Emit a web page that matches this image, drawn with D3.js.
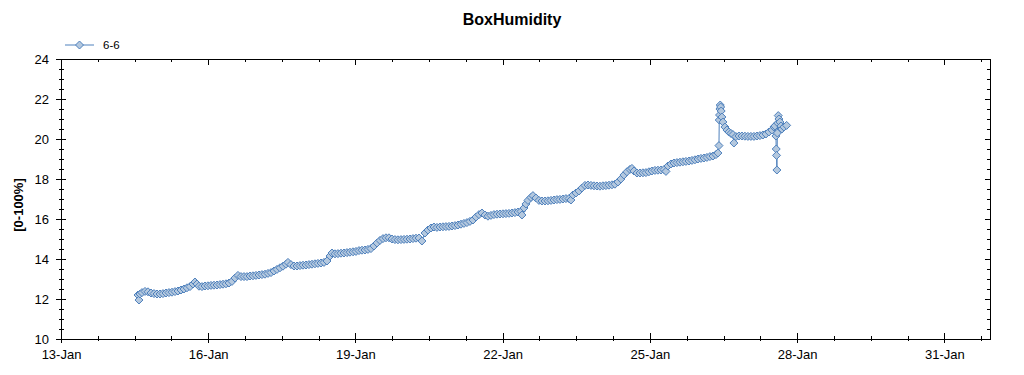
<!DOCTYPE html>
<html>
<head>
  <meta charset="utf-8" />
  <title>BoxHumidity</title>
  <style>
    body { margin: 0; background: #fff; }
    svg { font-family: "Liberation Sans", Arial, sans-serif; }
    .axis path, .axis line { stroke: #000; shape-rendering: crispEdges; }
    .axis text { font-size: 13px; fill: #000; }
  </style>
</head>
<body>
  <svg></svg>
  <script src="https://d3js.org/d3.v7.min.js"></script>
  <script>
    // readings: [day of January, humidity]
    var seriesName = "6-6";
    var humidity66 = [
      [14.569,12.20],[14.589,11.95],[14.610,12.25],[14.650,12.32],[14.712,12.38],[14.773,12.36],[14.834,12.30],[14.895,12.27],
      [14.956,12.25],[15.017,12.25],[15.078,12.27],[15.139,12.30],[15.200,12.32],[15.262,12.34],[15.323,12.37],[15.384,12.40],
      [15.445,12.45],[15.506,12.50],[15.567,12.56],[15.628,12.62],[15.690,12.75],[15.730,12.85],[15.771,12.75],[15.812,12.64],
      [15.873,12.62],[15.934,12.65],[15.995,12.66],[16.056,12.68],[16.117,12.69],[16.179,12.70],[16.240,12.72],[16.301,12.74],
      [16.362,12.76],[16.423,12.80],[16.484,12.88],[16.545,13.05],[16.606,13.18],[16.668,13.12],[16.729,13.12],[16.790,13.12],
      [16.851,13.15],[16.912,13.16],[16.973,13.18],[17.034,13.20],[17.095,13.22],[17.157,13.24],[17.218,13.28],[17.279,13.32],
      [17.340,13.40],[17.401,13.48],[17.462,13.56],[17.523,13.64],[17.584,13.74],[17.625,13.83],[17.686,13.72],[17.747,13.65],
      [17.809,13.65],[17.870,13.67],[17.931,13.69],[17.992,13.70],[18.053,13.72],[18.114,13.74],[18.175,13.76],[18.236,13.78],
      [18.298,13.80],[18.359,13.83],[18.420,13.90],[18.481,14.15],[18.522,14.30],[18.583,14.26],[18.644,14.27],[18.705,14.29],
      [18.766,14.30],[18.827,14.32],[18.888,14.34],[18.950,14.36],[19.011,14.38],[19.072,14.42],[19.133,14.44],[19.194,14.45],
      [19.255,14.48],[19.316,14.52],[19.377,14.65],[19.439,14.80],[19.500,14.93],[19.561,15.02],[19.622,15.06],[19.683,15.06],
      [19.744,15.00],[19.805,14.97],[19.866,14.96],[19.928,14.97],[19.989,14.98],[20.050,14.99],[20.111,15.00],[20.172,15.02],
      [20.233,15.04],[20.294,15.05],[20.355,14.90],[20.417,15.30],[20.478,15.45],[20.539,15.55],[20.600,15.60],[20.661,15.58],
      [20.722,15.60],[20.783,15.61],[20.844,15.62],[20.906,15.63],[20.967,15.65],[21.028,15.67],[21.089,15.70],[21.150,15.74],
      [21.211,15.78],[21.272,15.82],[21.333,15.88],[21.395,15.95],[21.456,16.10],[21.517,16.22],[21.578,16.30],[21.639,16.20],
      [21.700,16.14],[21.761,16.18],[21.822,16.22],[21.884,16.24],[21.945,16.25],[22.006,16.26],[22.067,16.27],[22.128,16.28],
      [22.189,16.30],[22.250,16.32],[22.311,16.35],[22.373,16.38],[22.393,16.20],[22.434,16.55],[22.474,16.75],[22.515,16.93],
      [22.576,17.08],[22.617,17.17],[22.678,17.05],[22.739,16.93],[22.800,16.90],[22.862,16.90],[22.923,16.91],[22.984,16.93],
      [23.045,16.95],[23.106,16.97],[23.167,16.98],[23.228,17.00],[23.289,17.02],[23.351,17.02],[23.391,16.95],[23.432,17.20],
      [23.493,17.30],[23.554,17.40],[23.615,17.55],[23.677,17.68],[23.738,17.70],[23.799,17.68],[23.860,17.66],[23.921,17.65],
      [23.982,17.64],[24.043,17.66],[24.104,17.67],[24.166,17.69],[24.227,17.71],[24.288,17.74],[24.349,17.85],[24.410,18.00],
      [24.471,18.20],[24.532,18.36],[24.593,18.48],[24.634,18.53],[24.675,18.40],[24.736,18.30],[24.797,18.30],[24.858,18.31],
      [24.919,18.32],[24.980,18.36],[25.041,18.40],[25.103,18.43],[25.164,18.44],[25.225,18.45],[25.286,18.47],[25.327,18.38],
      [25.368,18.65],[25.429,18.75],[25.490,18.80],[25.551,18.82],[25.612,18.84],[25.673,18.86],[25.734,18.88],[25.796,18.90],
      [25.857,18.93],[25.918,18.96],[25.979,19.00],[26.040,19.03],[26.101,19.05],[26.162,19.08],[26.223,19.12],[26.285,19.15],
      [26.346,19.22],[26.386,19.30],[26.407,19.67],[26.413,20.95],[26.419,21.20],[26.427,21.50],[26.433,21.70],[26.442,21.60],
      [26.452,21.40],[26.468,21.10],[26.488,20.85],[26.529,20.60],[26.570,20.45],[26.610,20.35],[26.651,20.28],[26.692,20.22],
      [26.712,19.80],[26.753,20.12],[26.814,20.15],[26.875,20.15],[26.936,20.14],[26.997,20.13],[27.058,20.13],[27.120,20.13],
      [27.181,20.15],[27.242,20.17],[27.303,20.20],[27.364,20.25],[27.425,20.35],[27.486,20.45],[27.527,20.60],[27.547,20.65],
      [27.568,20.15],[27.574,19.50],[27.580,19.18],[27.588,18.45],[27.597,20.30],[27.605,20.80],[27.615,21.17],[27.629,21.00],
      [27.649,20.85],[27.670,20.65],[27.690,20.50],[27.731,20.60],[27.786,20.68]
    ];
    var xDays = [13, 31.93];          // x extent, day of January
    var xMajorDays = d3.range(13, 32, 3);
    var xMinorDays = d3.range(13, 32, 0.75);
    var yDomain = [10, 24];
    var yMajor = d3.range(10, 24.01, 2);
    var yMinor = d3.range(10, 24.01, 0.5);

    var width = 1024, height = 375;
    var plotL = 61, plotR = 990, plotT = 59, plotB = 339;
    var lineColor = "#4f81bd", markerFill = "#b4c8de";

    function toDate(day) {
      return new Date(new Date(2013, 0, 1).getTime() + (day - 1) * 864e5);
    }

    var svg = d3.select("svg").attr("width", width).attr("height", height);

    var x = d3.scaleTime().domain(xDays.map(toDate)).range([plotL, plotR]);
    var y = d3.scaleLinear().domain(yDomain).range([plotB, plotT]);
    var fmt = d3.timeFormat("%d-%b");

    // minor ticks first
    var bMin = svg.append("g").attr("class", "axis").attr("transform", "translate(0," + plotB + ")")
      .call(d3.axisBottom(x).tickValues(xMinorDays.map(toDate)).tickFormat("").tickSize(2).tickSizeOuter(0));
    bMin.selectAll(".tick line").attr("y1", -3);
    var bMaj = svg.append("g").attr("class", "axis").attr("transform", "translate(0," + plotB + ")")
      .call(d3.axisBottom(x).tickValues(xMajorDays.map(toDate)).tickFormat(fmt).tickSize(4).tickPadding(7).tickSizeOuter(0));
    bMaj.selectAll(".tick line").attr("y1", -6);

    svg.append("g").attr("class", "axis").attr("transform", "translate(0," + plotT + ")")
      .call(d3.axisTop(x).tickValues(xMinorDays.map(toDate)).tickFormat("").tickSize(-3).tickSizeOuter(0));
    svg.append("g").attr("class", "axis").attr("transform", "translate(0," + plotT + ")")
      .call(d3.axisTop(x).tickValues(xMajorDays.map(toDate)).tickFormat("").tickSize(-6).tickSizeOuter(0));

    var lMin = svg.append("g").attr("class", "axis").attr("transform", "translate(" + plotL + ",0)")
      .call(d3.axisLeft(y).tickValues(yMinor).tickFormat("").tickSize(2).tickSizeOuter(0));
    lMin.selectAll(".tick line").attr("x1", 3);
    var lMaj = svg.append("g").attr("class", "axis").attr("transform", "translate(" + plotL + ",0)")
      .call(d3.axisLeft(y).tickValues(yMajor).tickFormat(d3.format("d")).tickSize(5).tickPadding(7).tickSizeOuter(0));
    lMaj.selectAll(".tick line").attr("x1", 5);

    svg.append("g").attr("class", "axis").attr("transform", "translate(" + plotR + ",0)")
      .call(d3.axisRight(y).tickValues(yMinor).tickFormat("").tickSize(-3).tickSizeOuter(0));
    svg.append("g").attr("class", "axis").attr("transform", "translate(" + plotR + ",0)")
      .call(d3.axisRight(y).tickValues(yMajor).tickFormat("").tickSize(-5).tickSizeOuter(0));

    // series
    var line = d3.line().x(d => x(toDate(d[0]))).y(d => y(d[1]));
    svg.append("path").datum(humidity66)
      .attr("fill", "none").attr("stroke", lineColor).attr("stroke-width", 1)
      .attr("d", line);

    var diamond = "M0,-4L4,0L0,4L-4,0Z";
    svg.append("g").selectAll("path").data(humidity66).join("path")
      .attr("d", diamond)
      .attr("transform", d => "translate(" + x(toDate(d[0])) + "," + y(d[1]) + ")")
      .attr("fill", markerFill).attr("stroke", lineColor).attr("stroke-width", 1);

    // title, axis label, legend
    svg.append("text").attr("x", width / 2).attr("y", 25)
      .attr("text-anchor", "middle").attr("font-weight", "bold").attr("font-size", 16)
      .text("BoxHumidity");
    svg.append("text").attr("transform", "translate(23,205) rotate(-90)")
      .attr("text-anchor", "middle").attr("font-weight", "bold").attr("font-size", 13)
      .text("[0-100%]");

    var leg = svg.append("g").attr("transform", "translate(65,45)");
    leg.append("line").attr("x1", 0).attr("x2", 29).attr("stroke", lineColor);
    leg.append("path").attr("d", diamond).attr("transform", "translate(14.5,0)")
      .attr("fill", markerFill).attr("stroke", lineColor);
    leg.append("text").attr("x", 38).attr("y", 4).attr("font-size", 11.5).text(seriesName);
  </script>
</body>
</html>
